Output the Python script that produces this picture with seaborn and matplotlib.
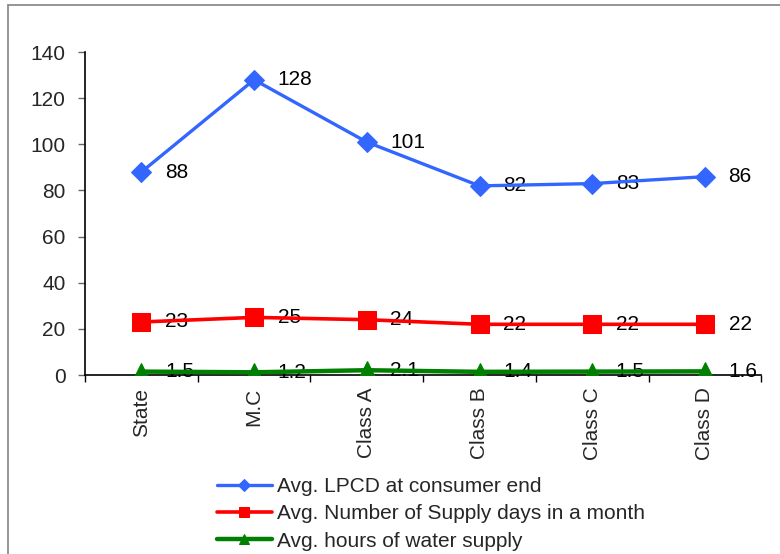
import matplotlib
matplotlib.use("Agg")
import matplotlib.pyplot as plt
from matplotlib.patches import Rectangle
from matplotlib.ticker import FixedLocator, NullFormatter
import seaborn as sns
import pandas as pd

categories = ["State", "M.C", "Class A", "Class B", "Class C", "Class D"]
lpcd = [88, 128, 101, 82, 83, 86]
supply_days = [23, 25, 24, 22, 22, 22]
supply_hours = [1.5, 1.2, 2.1, 1.4, 1.5, 1.6]
series_names = [
    "Avg. LPCD at consumer end",
    "Avg. Number of Supply days in a month",
    "Avg. hours of water supply",
]
y_ticks = [0, 20, 40, 60, 80, 100, 120, 140]

FS = 15

sns.set_theme(style="white")
plt.rcParams["font.family"] = ["Liberation Sans", "DejaVu Sans"]

fig = plt.figure(figsize=(7.8, 5.54), dpi=100)
ax = fig.add_axes([0.109, 0.323, 0.867, 0.583])

# outer frame of the chart area
fig.patches.append(Rectangle((8 / 780, -0.1), 1.2, 1 - 5 / 554 + 0.1,
                             transform=fig.transFigure, fill=False,
                             edgecolor="#8c8c8c", linewidth=1.3, zorder=0))

pos = list(range(len(categories)))
frames = []
for name, vals in zip(series_names, [lpcd, supply_days, supply_hours]):
    frames.append(pd.DataFrame({"pos": pos, "value": vals, "series": name}))
df = pd.concat(frames, ignore_index=True)

styles = {
    series_names[0]: dict(color="#3366FF", marker="D", ms=10, lw=2.4),
    series_names[1]: dict(color="#FF0000", marker="s", ms=13, lw=2.6),
    series_names[2]: dict(color="#008000", marker="^", ms=13, lw=3.2),
}

for name in series_names:
    st = styles[name]
    sub = df[df["series"] == name]
    sns.lineplot(data=sub, x="pos", y="value", ax=ax, color=st["color"],
                 marker=st["marker"], markersize=st["ms"], linewidth=st["lw"],
                 markeredgecolor=st["color"], label=name, zorder=3)
    for x, v in zip(sub["pos"], sub["value"]):
        ax.annotate(f"{v:g}", (x, v), xytext=(17, 0), textcoords="offset points",
                    ha="left", va="center", fontsize=FS, color="black",
                    zorder=2)

ax.set_xlim(-0.5, len(categories) - 0.5)
ax.set_ylim(0, 140)
ax.set_yticks(y_ticks)
ax.set_yticklabels([str(t) for t in y_ticks], fontsize=FS)

ax.xaxis.set_major_locator(FixedLocator([i - 0.5 for i in range(len(categories) + 1)]))
ax.xaxis.set_major_formatter(NullFormatter())
ax.xaxis.set_minor_locator(FixedLocator(pos))
ax.set_xticklabels(categories, minor=True, rotation=90, fontsize=FS)
ax.tick_params(axis="x", which="major", direction="out", length=5, width=1,
               color="black", bottom=True)
ax.tick_params(axis="x", which="minor", length=0, pad=9)
ax.tick_params(axis="y", direction="out", length=5, width=1, color="#666666",
               left=True, pad=9)
ax.set_xlabel("")
ax.set_ylabel("")

for side in ["top", "right"]:
    ax.spines[side].set_visible(False)
for side in ["left", "bottom"]:
    ax.spines[side].set_color("black")
    ax.spines[side].set_linewidth(1.2)
ax.spines["bottom"].set_zorder(1)

ax.legend(loc="upper left", bbox_to_anchor=(0.195, -0.316), frameon=False,
          fontsize=FS, handlelength=2.65, handletextpad=0.25,
          labelspacing=0.4, borderaxespad=0, borderpad=0, markerscale=0.6)

fig.savefig("out.png", dpi=100, facecolor="white")
